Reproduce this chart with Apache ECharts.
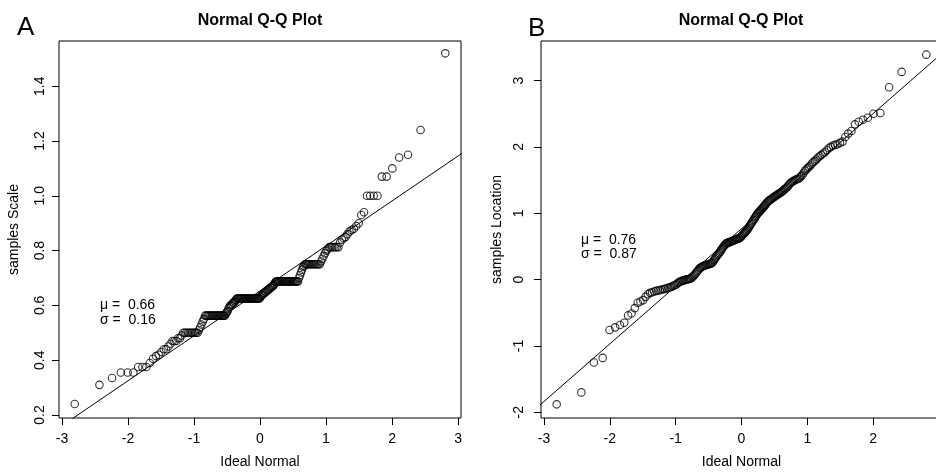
<!DOCTYPE html>
<html>
<head>
<meta charset="utf-8">
<script src="https://cdn.jsdelivr.net/npm/echarts@6/dist/echarts.min.js"></script>
<style>
  html, body { margin: 0; padding: 0; background: #fff; }
  #chart { width: 936px; height: 472px; }
</style>
</head>
<body>
<div id="chart"></div>
<script>
// sorted samples (n = 200 each)
const samplesScale = [
  0.24, 0.31, 0.335, 0.355, 0.355, 0.355, 0.375, 0.375, 0.375, 0.39,
  0.405, 0.415, 0.42, 0.43, 0.44, 0.44, 0.45, 0.46, 0.47, 0.47,
  0.47, 0.48, 0.48, 0.49, 0.5, 0.5, 0.5, 0.5, 0.5, 0.5,
  0.5, 0.5, 0.5, 0.5, 0.5, 0.51, 0.52, 0.53, 0.54, 0.55,
  0.5625, 0.5625, 0.5625, 0.5625, 0.5625, 0.5625, 0.5625, 0.5625, 0.5625, 0.5625,
  0.5625, 0.5625, 0.5625, 0.5625, 0.5625, 0.5625, 0.5625, 0.5625, 0.5625, 0.5625,
  0.57, 0.575, 0.58, 0.59, 0.595, 0.6, 0.6, 0.605, 0.61, 0.61,
  0.615, 0.62, 0.625, 0.625, 0.625, 0.625, 0.625, 0.625, 0.625, 0.625,
  0.625, 0.625, 0.625, 0.625, 0.625, 0.625, 0.625, 0.625, 0.625, 0.625,
  0.625, 0.625, 0.625, 0.625, 0.625, 0.625, 0.625, 0.625, 0.625, 0.625,
  0.63, 0.635, 0.64, 0.64, 0.645, 0.645, 0.65, 0.65, 0.655, 0.655,
  0.66, 0.66, 0.665, 0.665, 0.67, 0.67, 0.675, 0.68, 0.685, 0.6875,
  0.6875, 0.6875, 0.6875, 0.6875, 0.6875, 0.6875, 0.6875, 0.6875, 0.6875, 0.6875,
  0.6875, 0.6875, 0.6875, 0.6875, 0.6875, 0.6875, 0.6875, 0.6875, 0.6875, 0.6875,
  0.6875, 0.6875, 0.6875, 0.6875, 0.7, 0.71, 0.72, 0.73, 0.74, 0.745,
  0.75, 0.75, 0.75, 0.75, 0.75, 0.75, 0.75, 0.75, 0.75, 0.75,
  0.75, 0.75, 0.75, 0.75, 0.76, 0.77, 0.78, 0.79, 0.8, 0.805,
  0.8125, 0.8125, 0.8125, 0.8125, 0.8125, 0.8125, 0.8125, 0.83, 0.84, 0.845,
  0.85, 0.86, 0.87, 0.875, 0.88, 0.89, 0.9, 0.93, 0.94, 1.0,
  1.0, 1.0, 1.0, 1.07, 1.07, 1.1, 1.14, 1.15, 1.24, 1.52
]
const samplesLocation = [
  -1.88, -1.7, -1.25, -1.18, -0.76, -0.72, -0.685, -0.65, -0.54, -0.51,
  -0.43, -0.35, -0.33, -0.31, -0.26, -0.22, -0.2, -0.19, -0.18, -0.17,
  -0.165, -0.16, -0.15, -0.145, -0.14, -0.13, -0.125, -0.12, -0.11, -0.1,
  -0.09, -0.08, -0.07, -0.05, -0.035, -0.03, -0.02, -0.015, -0.01, 0,
  0, 0.005, 0.01, 0.015, 0.02, 0.035, 0.05, 0.07, 0.09, 0.11,
  0.13, 0.15, 0.17, 0.18, 0.19, 0.2, 0.205, 0.21, 0.215, 0.22,
  0.225, 0.23, 0.235, 0.24, 0.245, 0.25, 0.27, 0.29, 0.31, 0.33,
  0.35, 0.37, 0.385, 0.4, 0.42, 0.44, 0.46, 0.48, 0.5, 0.515,
  0.53, 0.545, 0.55, 0.555, 0.56, 0.565, 0.57, 0.575, 0.58, 0.585,
  0.59, 0.595, 0.6, 0.605, 0.61, 0.615, 0.62, 0.625, 0.635, 0.645,
  0.66, 0.675, 0.69, 0.7, 0.715, 0.73, 0.745, 0.76, 0.78, 0.8,
  0.82, 0.84, 0.86, 0.88, 0.9, 0.92, 0.94, 0.96, 0.98, 0.995,
  1.01, 1.025, 1.04, 1.055, 1.07, 1.085, 1.1, 1.115, 1.13, 1.15,
  1.165, 1.18, 1.19, 1.2, 1.21, 1.22, 1.23, 1.24, 1.25, 1.26,
  1.27, 1.28, 1.29, 1.3, 1.31, 1.32, 1.33, 1.345, 1.36, 1.37,
  1.385, 1.4, 1.42, 1.44, 1.46, 1.47, 1.48, 1.49, 1.5, 1.51,
  1.515, 1.52, 1.54, 1.56, 1.58, 1.61, 1.64, 1.66, 1.68, 1.7,
  1.72, 1.75, 1.77, 1.79, 1.81, 1.84, 1.86, 1.88, 1.9, 1.92,
  1.95, 1.98, 2.0, 2.02, 2.03, 2.04, 2.06, 2.08, 2.15, 2.2,
  2.24, 2.34, 2.38, 2.41, 2.44, 2.5, 2.51, 2.9, 3.13, 3.39
]

// reference lines (end points, data units)
const lineScale = [[-3.2, 0.128], [3.2, 1.178]]
const lineLocation = [[-3.2, -2.011], [3.2, 3.545]]

// tick labels
const xTicks = [-3, -2, -1, 0, 1, 2, 3]
const yTicksScale = [0.2, 0.4, 0.6, 0.8, 1.0, 1.2, 1.4]
const yTicksLocation = [-2, -1, 0, 1, 2, 3]

const statsScale = ['0.66', '0.16']
const statsLocation = ['0.76', '0.87']

// inverse normal cdf (Acklam) -> theoretical quantiles for the x axis
function qnorm (p) {
  const a = [-39.69683028665376, 220.9460984245205, -275.9285104469687, 138.357751867269, -30.66479806614716, 2.506628277459239]
  const b = [-54.47609879822406, 161.5858368580409, -155.6989798598866, 66.80131188771972, -13.28068155288572]
  const c = [-0.007784894002430293, -0.3223964580411365, -2.400758277161838, -2.549732539343734, 4.374664141464968, 2.938163982698783]
  const d = [0.007784695709041462, 0.3224671290700398, 2.445134137142996, 3.754408661907416]
  const lo = 0.02425
  let q, r
  if (p < lo || p > 1 - lo) {
    q = Math.sqrt(-2 * Math.log(p < lo ? p : 1 - p))
    const v = (((((c[0] * q + c[1]) * q + c[2]) * q + c[3]) * q + c[4]) * q + c[5]) /
      ((((d[0] * q + d[1]) * q + d[2]) * q + d[3]) * q + 1)
    return p < lo ? v : -v
  }
  q = p - 0.5
  r = q * q
  return (((((a[0] * r + a[1]) * r + a[2]) * r + a[3]) * r + a[4]) * r + a[5]) * q /
    (((((b[0] * r + b[1]) * r + b[2]) * r + b[3]) * r + b[4]) * r + 1)
}

function qqPairs (samples) {
  const n = samples.length
  return samples.map((v, i) => [qnorm((i + 0.5) / n), v])
}

const FONT = '"Liberation Sans", Arial, sans-serif'

function xAxisOf (gridIndex) {
  return {
    gridIndex,
    type: 'value',
    min: -3.045,
    max: 3.045,
    name: 'Ideal Normal',
    nameLocation: 'middle',
    nameGap: 37,
    nameTextStyle: { color: '#000', fontSize: 14, fontFamily: FONT },
    axisLine: { show: false, onZero: false },
    axisTick: { show: true, length: 7, lineStyle: { color: '#000' }, customValues: xTicks },
    axisLabel: { color: '#000', fontSize: 14, fontFamily: FONT, margin: 14, customValues: xTicks },
    splitLine: { show: false }
  }
}

function yAxisOf (gridIndex, min, max, ticks, name, gap, margin) {
  return {
    gridIndex,
    type: 'value',
    min,
    max,
    name,
    nameLocation: 'middle',
    nameGap: gap,
    nameTextStyle: { color: '#000', fontSize: 14, fontFamily: FONT },
    axisLine: { show: false, onZero: false },
    axisTick: { show: true, length: 7, lineStyle: { color: '#000' }, customValues: ticks },
    axisLabel: {
      color: '#000', fontSize: 14, fontFamily: FONT, rotate: 90, margin,
      customValues: ticks,
      formatter: v => (ticks === yTicksScale ? v.toFixed(1) : String(v))
    },
    splitLine: { show: false }
  }
}

function pointsSeries (idx, samples) {
  return {
    type: 'scatter',
    xAxisIndex: idx,
    yAxisIndex: idx,
    data: qqPairs(samples),
    symbol: 'circle',
    symbolSize: 7.5,
    itemStyle: { color: 'rgba(0,0,0,0)', borderColor: '#000', borderWidth: 1.1 },
    emphasis: { disabled: true },
    silent: true
  }
}

function lineSeries (idx, pts) {
  return {
    type: 'line',
    xAxisIndex: idx,
    yAxisIndex: idx,
    data: pts,
    symbol: 'none',
    clip: true,
    lineStyle: { color: '#000', width: 1 },
    silent: true
  }
}

function text (str, x, y, size, weight, align) {
  return {
    type: 'text',
    x,
    y,
    style: {
      text: str,
      font: (weight || 'normal') + ' ' + size + 'px ' + FONT,
      fill: '#000',
      textAlign: align || 'left',
      textVerticalAlign: 'middle'
    }
  }
}

const chart = echarts.init(document.getElementById('chart'))
chart.setOption({
  animation: false,
  backgroundColor: '#fff',
  grid: [
    { left: 59, top: 41, width: 402, height: 377, outerBoundsMode: 'none', show: true, borderColor: '#000', borderWidth: 1, backgroundColor: 'transparent' },
    { left: 541, top: 41, width: 401, height: 377, outerBoundsMode: 'none', show: true, borderColor: '#000', borderWidth: 1, backgroundColor: 'transparent' }
  ],
  xAxis: [xAxisOf(0), xAxisOf(1)],
  yAxis: [
    yAxisOf(0, 0.189, 1.565, yTicksScale, 'samples Scale', 38, 12),
    yAxisOf(1, -2.086, 3.596, yTicksLocation, 'samples Location', 37, 15)
  ],
  series: [
    lineSeries(0, lineScale),
    pointsSeries(0, samplesScale),
    lineSeries(1, lineLocation),
    pointsSeries(1, samplesLocation)
  ],
  graphic: [
    text('A', 17, 28, 26),
    text('B', 528, 29, 26),
    text('Normal Q-Q Plot', 260, 21, 16, 'bold', 'center'),
    text('Normal Q-Q Plot', 741, 21, 16, 'bold', 'center'),
    text('μ =  ' + statsScale[0], 100, 305, 14),
    text('σ =  ' + statsScale[1], 100, 320, 14),
    text('μ =  ' + statsLocation[0], 581, 240, 14),
    text('σ =  ' + statsLocation[1], 581, 254, 14)
  ]
})
</script>
</body>
</html>
